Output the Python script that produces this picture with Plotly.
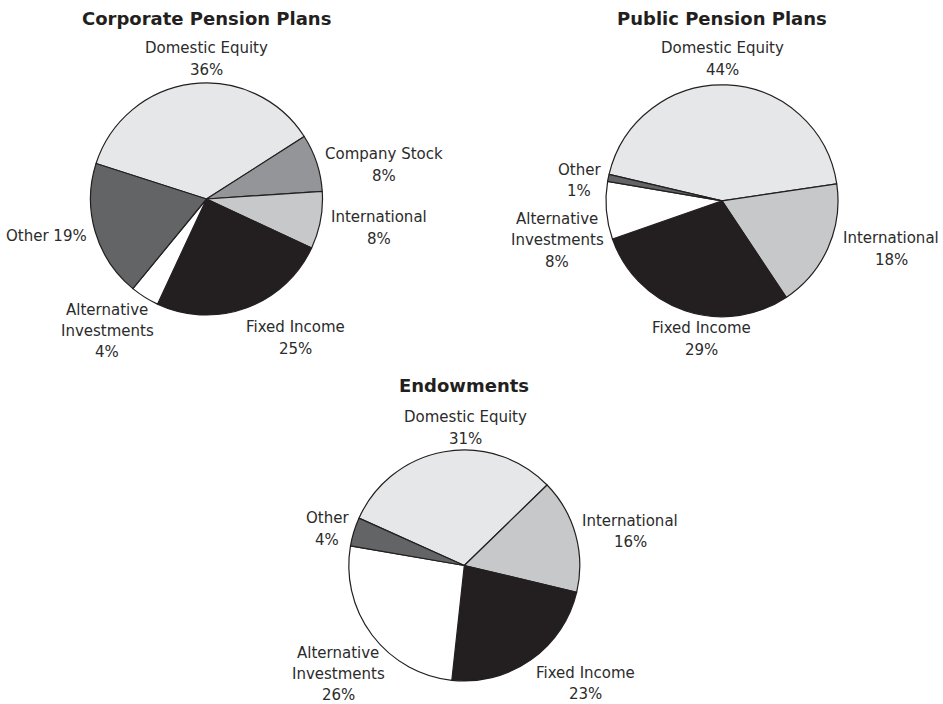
import plotly.graph_objects as go

W, H = 943, 704

# ---- data -------------------------------------------------------------
corporate_categories = ["Domestic Equity", "Company Stock", "International",
                        "Fixed Income", "Alternative Investments", "Other"]
corporate_values = [36, 8, 8, 25, 4, 19]

public_categories = ["Domestic Equity", "International", "Fixed Income",
                     "Alternative Investments", "Other"]
public_values = [44, 18, 29, 8, 1]

endowment_categories = ["Domestic Equity", "International", "Fixed Income",
                        "Alternative Investments", "Other"]
endowment_values = [31, 16, 23, 26, 4]

titles = ["Corporate Pension Plans", "Public Pension Plans", "Endowments"]

# ---- styling ----------------------------------------------------------
slice_colors = {
    "Domestic Equity": "#e6e7e8",
    "Company Stock": "#939598",
    "International": "#c7c8ca",
    "Fixed Income": "#231f20",
    "Alternative Investments": "#ffffff",
    "Other": "#636466",
}
TEXT = "#2b2b2b"
FONT = "DejaVu Sans"
LABEL_SIZE = 15

# pie placement in pixels: centre x, centre y, radius, start angle (deg, clockwise from 12 o'clock)
# label entries: (centre x, first-line y, line gap, single line?)
pies = [
    dict(cats=corporate_categories, vals=corporate_values, cx=206.5, cy=199, r=116,
         rotation=-72.2, title=titles[0], title_y=19,
         labels={"Domestic Equity": (206, 48, 22, False),
                 "Company Stock": (384, 154, 22, False),
                 "International": (379, 217, 21.5, False),
                 "Fixed Income": (295, 327, 21.5, False),
                 "Alternative Investments": (107, 310, 21, False),
                 "Other": (46, 236, 22, True)}),
    dict(cats=public_categories, vals=public_values, cx=722, cy=200.8, r=116,
         rotation=-76.8, title=titles[1], title_y=19,
         labels={"Domestic Equity": (722, 48, 22, False),
                 "International": (891, 238, 22, False),
                 "Fixed Income": (701, 328, 22, False),
                 "Alternative Investments": (557, 219, 21.3, False),
                 "Other": (579, 170, 21.5, False)}),
    dict(cats=endowment_categories, vals=endowment_values, cx=464.3, cy=565.5, r=115.5,
         rotation=-65.8, title=titles[2], title_y=385,
         labels={"Domestic Equity": (465, 417, 21.5, False),
                 "International": (630, 521, 21, False),
                 "Fixed Income": (585, 673, 21, False),
                 "Alternative Investments": (338, 652.5, 21, False),
                 "Other": (327, 518, 21.5, False)}),
]


def px_x(x):
    return x / W


def px_y(y):
    return 1 - y / H


fig = go.Figure()
annotations = []

for p in pies:
    fig.add_trace(go.Pie(
        labels=p["cats"],
        values=p["vals"],
        sort=False,
        direction="clockwise",
        rotation=p["rotation"],
        marker=dict(colors=[slice_colors[c] for c in p["cats"]],
                    line=dict(color="#231f20", width=1.2)),
        textinfo="none",
        hoverinfo="label+percent",
        domain=dict(x=[px_x(p["cx"] - p["r"]), px_x(p["cx"] + p["r"])],
                    y=[px_y(p["cy"] + p["r"]), px_y(p["cy"] - p["r"])]),
    ))

    annotations.append(dict(
        text=f"<b>{p['title']}</b>", x=px_x(p["cx"]), y=px_y(p["title_y"]),
        xref="paper", yref="paper", xanchor="center", yanchor="middle",
        showarrow=False, borderpad=0,
        font=dict(family=FONT, size=18, color="#231f20")))

    for cat, val in zip(p["cats"], p["vals"]):
        x, y0, gap, inline = p["labels"][cat]
        if inline:
            lines = [f"{cat} {val}%"]
        else:
            name_lines = cat.split(" ") if cat == "Alternative Investments" else [cat]
            lines = name_lines + [f"{val}%"]
        for i, line in enumerate(lines):
            annotations.append(dict(
                text=line, x=px_x(x), y=px_y(y0 + i * gap),
                xref="paper", yref="paper", xanchor="center", yanchor="middle",
                showarrow=False, borderpad=0,
                font=dict(family=FONT, size=LABEL_SIZE, color=TEXT)))

fig.update_layout(
    width=W, height=H,
    margin=dict(l=0, r=0, t=0, b=0),
    paper_bgcolor="white",
    plot_bgcolor="white",
    showlegend=False,
    annotations=annotations,
)

fig.write_html("out.html")
